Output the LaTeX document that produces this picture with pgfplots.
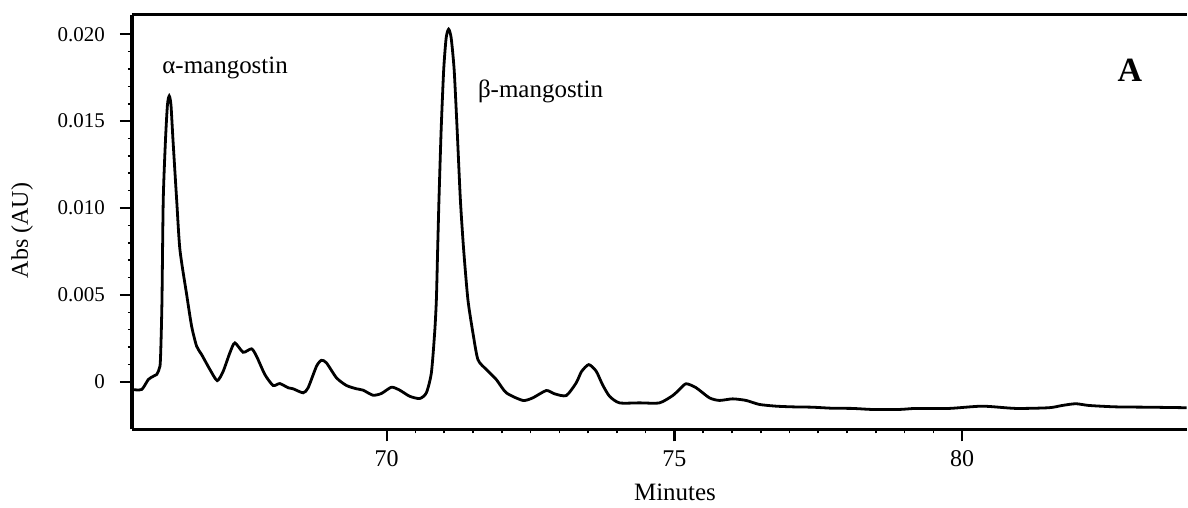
\documentclass[border=0pt]{standalone}
\usepackage{fontspec}
\setmainfont{Liberation Serif}
\usepackage{pgfplots}
\pgfplotsset{compat=1.18}
\usetikzlibrary{calc}

\begin{document}
\begin{tikzpicture}
\begin{axis}[
  name=ax,
  scale only axis,
  width=528pt, height=207.5pt,
  xmin=65.57, xmax=83.9,
  ymin=-0.00274, ymax=0.02111,
  axis x line*=box,
  axis y line*=left,
  xtick pos=left,
  axis line style={line width=1.5pt},
  every outer y axis line/.append style={line width=2pt},
  tick align=outside,
  major tick length=6pt,
  minor tick length=2pt,
  xtick={70,75,80},
  xticklabels={70,75,80},
  minor x tick num=9,
  ytick={0,0.005,0.010,0.015,0.020},
  yticklabels={0,0.005,0.010,0.015,0.020},
  minor y tick num=4,
  scaled y ticks=false,
  every major tick/.append style={line width=1.2pt, black},
  every minor tick/.append style={line width=0.8pt, black},
  xticklabel style={font=\fontsize{12}{14}\selectfont, yshift=-1pt},
  yticklabel style={font=\fontsize{10.5}{12}\selectfont, xshift=-4pt},
  xlabel={Minutes},
  ylabel={Abs (AU)},
  xlabel style={font=\fontsize{12.5}{15}\selectfont, at={(axis description cs:0.515,-0.152)}, anchor=center},
  ylabel style={font=\fontsize{12}{14}\selectfont, at={(axis description cs:-0.104,0.48)}, anchor=center},
  clip=true,
]
% chromatogram trace (absorbance vs retention time)
\addplot[black, line width=1.4pt, smooth, tension=0.4] coordinates {
(65.573,-0.00044) (65.741,-0.00044) (65.856,0.00013) (65.943,0.00032)
(66.002,0.00042) (66.059,0.00090) (66.076,0.00214) (66.094,0.00473)
(66.116,0.01048) (66.155,0.01393) (66.189,0.01594) (66.220,0.01645)
(66.250,0.01594) (66.285,0.01393) (66.349,0.01048) (66.406,0.00760)
(66.523,0.00502) (66.609,0.00320) (66.696,0.00205) (66.783,0.00157)
(66.927,0.00071) (67.054,0.00007) (67.158,0.00061) (67.274,0.00167)
(67.361,0.00224) (67.505,0.00170) (67.651,0.00190) (67.738,0.00147)
(67.882,0.00042) (68.026,-0.00021) (68.142,-0.00010) (68.286,-0.00034)
(68.373,-0.00040) (68.547,-0.00063) (68.634,-0.00034) (68.780,0.00090)
(68.866,0.00124) (68.953,0.00109) (69.127,0.00023) (69.300,-0.00021)
(69.474,-0.00040) (69.589,-0.00048) (69.762,-0.00077) (69.908,-0.00067)
(70.082,-0.00031) (70.226,-0.00048) (70.399,-0.00083) (70.573,-0.00096)
(70.689,-0.00063) (70.776,0.00052) (70.833,0.00282) (70.863,0.00473)
(70.885,0.00760) (70.908,0.01048) (70.946,0.01450) (70.990,0.01795)
(71.033,0.01979) (71.076,0.02029) (71.120,0.01979) (71.172,0.01795)
(71.224,0.01450) (71.280,0.01048) (71.337,0.00760) (71.411,0.00473)
(71.498,0.00282) (71.585,0.00128) (71.731,0.00071) (71.905,0.00013)
(72.078,-0.00063) (72.366,-0.00107) (72.540,-0.00092) (72.773,-0.00050)
(72.917,-0.00069) (73.120,-0.00079) (73.293,-0.00006) (73.385,0.00059)
(73.512,0.00099) (73.641,0.00061) (73.750,-0.00016) (73.872,-0.00083)
(74.045,-0.00121) (74.392,-0.00121) (74.740,-0.00121) (74.970,-0.00079)
(75.087,-0.00044) (75.203,-0.00011) (75.377,-0.00034) (75.608,-0.00092)
(75.781,-0.00107) (76.012,-0.00098) (76.245,-0.00107) (76.476,-0.00130)
(76.766,-0.00140) (77.054,-0.00144) (77.401,-0.00146) (77.748,-0.00152)
(78.095,-0.00153) (78.443,-0.00159) (78.906,-0.00159) (79.196,-0.00153)
(79.774,-0.00153) (80.352,-0.00140) (80.932,-0.00153) (81.510,-0.00149)
(81.741,-0.00136) (81.974,-0.00126) (82.205,-0.00136) (82.668,-0.00144)
(83.247,-0.00146) (83.906,-0.00149)
};
\node[anchor=west, font=\fontsize{12.5}{15}\selectfont, inner sep=0pt] at (axis cs:66.094,0.01806) {α-mangostin};
\node[anchor=west, font=\fontsize{12.5}{15}\selectfont, inner sep=0pt] at (axis cs:71.58,0.01674) {β-mangostin};
\node[font=\fontsize{17}{20}\selectfont\bfseries, inner sep=0pt] at (axis cs:82.917,0.01795) {A};
\end{axis}
\path[use as bounding box] ($(ax.south west)+(-66pt,-39pt)$) rectangle ($(ax.north east)+(0pt,7.5pt)$);
\end{tikzpicture}
\end{document}
